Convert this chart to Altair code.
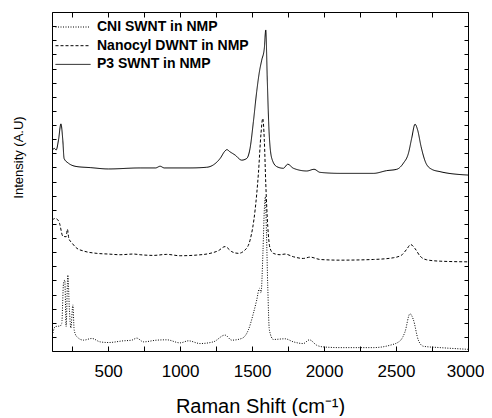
import altair as alt
import pandas as pd

series_names = ["CNI SWNT in NMP", "Nanocyl DWNT in NMP", "P3 SWNT in NMP"]

cni_shift = [116, 132, 167, 178, 190, 199, 208, 220, 231, 241, 255, 264, 283, 329, 387, 444, 502,
             606, 664, 699, 745, 838, 907, 1000, 1058, 1139, 1231, 1312, 1359, 1428, 1474, 1509,
             1532, 1551, 1562, 1576, 1585, 1592, 1600, 1609, 1620, 1648, 1729, 1787, 1856, 1898,
             1949, 1995, 2111, 2343, 2458, 2528, 2562, 2597, 2620, 2655, 2690, 2806, 3000]
cni_int = [5.3, 7.2, 7.4, 8.2, 20.0, 20.9, 7.2, 22.4, 12.1, 6.8, 13.6, 6.2, 4.2, 3.2, 3.7, 2.7, 2.5,
           3.0, 3.2, 3.8, 2.7, 3.2, 3.3, 2.4, 3.0, 2.2, 2.7, 4.7, 3.2, 3.7, 6.2, 11.1,
           15.0, 18.5, 17.1, 29.8, 41.6, 45.5, 34.7, 19.0, 6.2, 3.4, 3.6, 2.7, 2.2, 3.3,
           1.7, 1.2, 1.0, 1.0, 1.7, 3.0, 5.6, 11.0, 9.3, 3.2, 1.4, 1.0, 0.5]

nano_shift = [111, 132, 148, 162, 185, 208, 217, 227, 248, 283, 329, 422, 502, 583, 676, 722, 815,
              907, 1000, 1116, 1208, 1266, 1312, 1359, 1405, 1451, 1486, 1521, 1544, 1562, 1574,
              1585, 1595, 1609, 1625, 1648, 1694, 1729, 1787, 1856, 1903, 1972, 2111, 2343, 2481,
              2539, 2574, 2602, 2632, 2667, 2713, 2806, 3000]
nano_int = [38.6, 39.1, 38.8, 37.7, 33.9, 33.7, 35.9, 33.2, 31.9, 30.3, 29.5, 28.8, 28.6, 28.4, 28.6,
            28.4, 28.2, 28.5, 28.1, 28.3, 28.8, 29.6, 30.8, 29.3, 28.8, 29.8, 32.7, 41.6, 52.4,
            64.2, 68.6, 62.2, 49.5, 36.7, 30.3, 28.8, 28.4, 28.6, 27.8, 27.3, 27.7, 27.0, 26.8,
            27.0, 27.5, 28.3, 30.0, 31.4, 30.2, 28.0, 26.9, 26.5, 26.3]

p3_shift = [109, 125, 139, 155, 172, 185, 194, 224, 283, 375, 502, 722, 830, 861, 890, 1069, 1185,
            1231, 1278, 1312, 1325, 1345, 1382, 1428, 1463, 1486, 1509, 1532, 1551, 1567, 1585,
            1595, 1606, 1618, 1637, 1671, 1717, 1748, 1787, 1880, 1931, 1972, 2111, 2343, 2435,
            2505, 2551, 2586, 2609, 2632, 2650, 2674, 2708, 2748, 2806, 3000]
p3_int = [58.8, 59.8, 59.3, 62.2, 67.0, 62.2, 56.8, 55.4, 54.4, 54.1, 53.7, 54.0, 54.0, 54.5, 54.0,
          54.0, 54.2, 54.9, 56.8, 59.0, 59.4, 58.8, 57.8, 56.3, 56.8, 59.8, 67.6, 76.5, 82.4,
          85.8, 89.3, 94.7, 79.4, 64.7, 56.8, 54.4, 53.9, 55.1, 53.9, 53.1, 53.6, 52.7, 52.4,
          52.4, 53.2, 53.6, 55.4, 58.3, 62.8, 66.9, 65.2, 60.3, 55.4, 53.6, 52.9, 51.9]

x_labels = [500, 1000, 1500, 2000, 2500, 3000]
x_minor = [250, 500, 750, 1000, 1250, 1500, 1750, 2000, 2250, 2500, 2750, 3000]
y_minor = [i * 100 / 24 for i in range(25)]

rows = []
for name, xs, ys in zip(series_names, [cni_shift, nano_shift, p3_shift], [cni_int, nano_int, p3_int]):
    for xv, yv in zip(xs, ys):
        rows.append({"series": name, "shift": xv, "intensity": yv})
df = pd.DataFrame(rows)

FONT = "Liberation Sans, Arial, sans-serif"
xscale = alt.Scale(domain=[110, 3000], nice=False, zero=False)
yscale = alt.Scale(domain=[0, 100], nice=False, zero=False)

lines = alt.Chart(df).mark_line(strokeWidth=1, color="black", clip=True, interpolate="monotone").encode(
    x=alt.X("shift:Q", scale=xscale,
            axis=alt.Axis(values=x_labels, format="d", labelFlush=1, labelFlushOffset=16,
                          ticks=False, domain=False,
                          grid=False, labelFontSize=17, labelFont=FONT, labelColor="black",
                          labelPadding=12,
                          title="Raman Shift (cm⁻¹)", titleFont=FONT, titleFontSize=20,
                          titleFontWeight="normal", titleColor="black", titlePadding=17)),
    y=alt.Y("intensity:Q", scale=yscale,
            axis=alt.Axis(labels=False, ticks=False, domain=False, grid=False,
                          title="Intensity (A.U)", titleFont=FONT, titleFontSize=13,
                          titleFontWeight="normal", titleColor="black",
                          titleX=-30, titleY=145, titleBaseline="alphabetic", titleAngle=270)),
    strokeDash=alt.StrokeDash("series:N",
                              scale=alt.Scale(domain=series_names, range=[[1, 1.5], [3, 2], [1, 0]]),
                              legend=alt.Legend(title=None, orient="none", legendX=3, legendY=8,
                                                symbolType="stroke", symbolSize=1225, clipHeight=14,
                                                symbolStrokeColor="black", symbolStrokeWidth=1,
                                                labelFont=FONT, labelFontSize=14, labelFontWeight="bold",
                                                labelColor="black", labelOffset=6, rowPadding=4.7,
                                                padding=0)),
)

ticks_a = alt.Chart(df).mark_point(opacity=0).encode(
    x=alt.X("shift:Q", scale=xscale,
            axis=alt.Axis(orient="bottom", offset=-5, values=x_minor, tickSize=5, tickColor="black",
                          labels=False, domain=False, grid=False, title="")),
    y=alt.Y("intensity:Q", scale=yscale,
            axis=alt.Axis(orient="left", offset=-4, values=y_minor, tickSize=4, tickColor="black",
                          labels=False, domain=False, grid=False, title="")),
)

ticks_b = alt.Chart(df).mark_point(opacity=0).encode(
    x=alt.X("shift:Q", scale=xscale,
            axis=alt.Axis(orient="top", offset=-5, values=x_minor, tickSize=5, tickColor="black",
                          labels=False, domain=False, grid=False, title="")),
    y=alt.Y("intensity:Q", scale=yscale,
            axis=alt.Axis(orient="right", offset=-4, values=y_minor, tickSize=4, tickColor="black",
                          labels=False, domain=False, grid=False, title="")),
)

chart = alt.layer(lines, ticks_a, ticks_b).resolve_axis(x="independent", y="independent").properties(
    width=416, height=339,
    padding={"left": 44, "top": 4, "right": 16, "bottom": 65},
    autosize=alt.AutoSizeParams(type="none"),
).configure_view(stroke="black", strokeWidth=1)

chart.save("out.html", embed_options={"renderer": "svg", "actions": False})
